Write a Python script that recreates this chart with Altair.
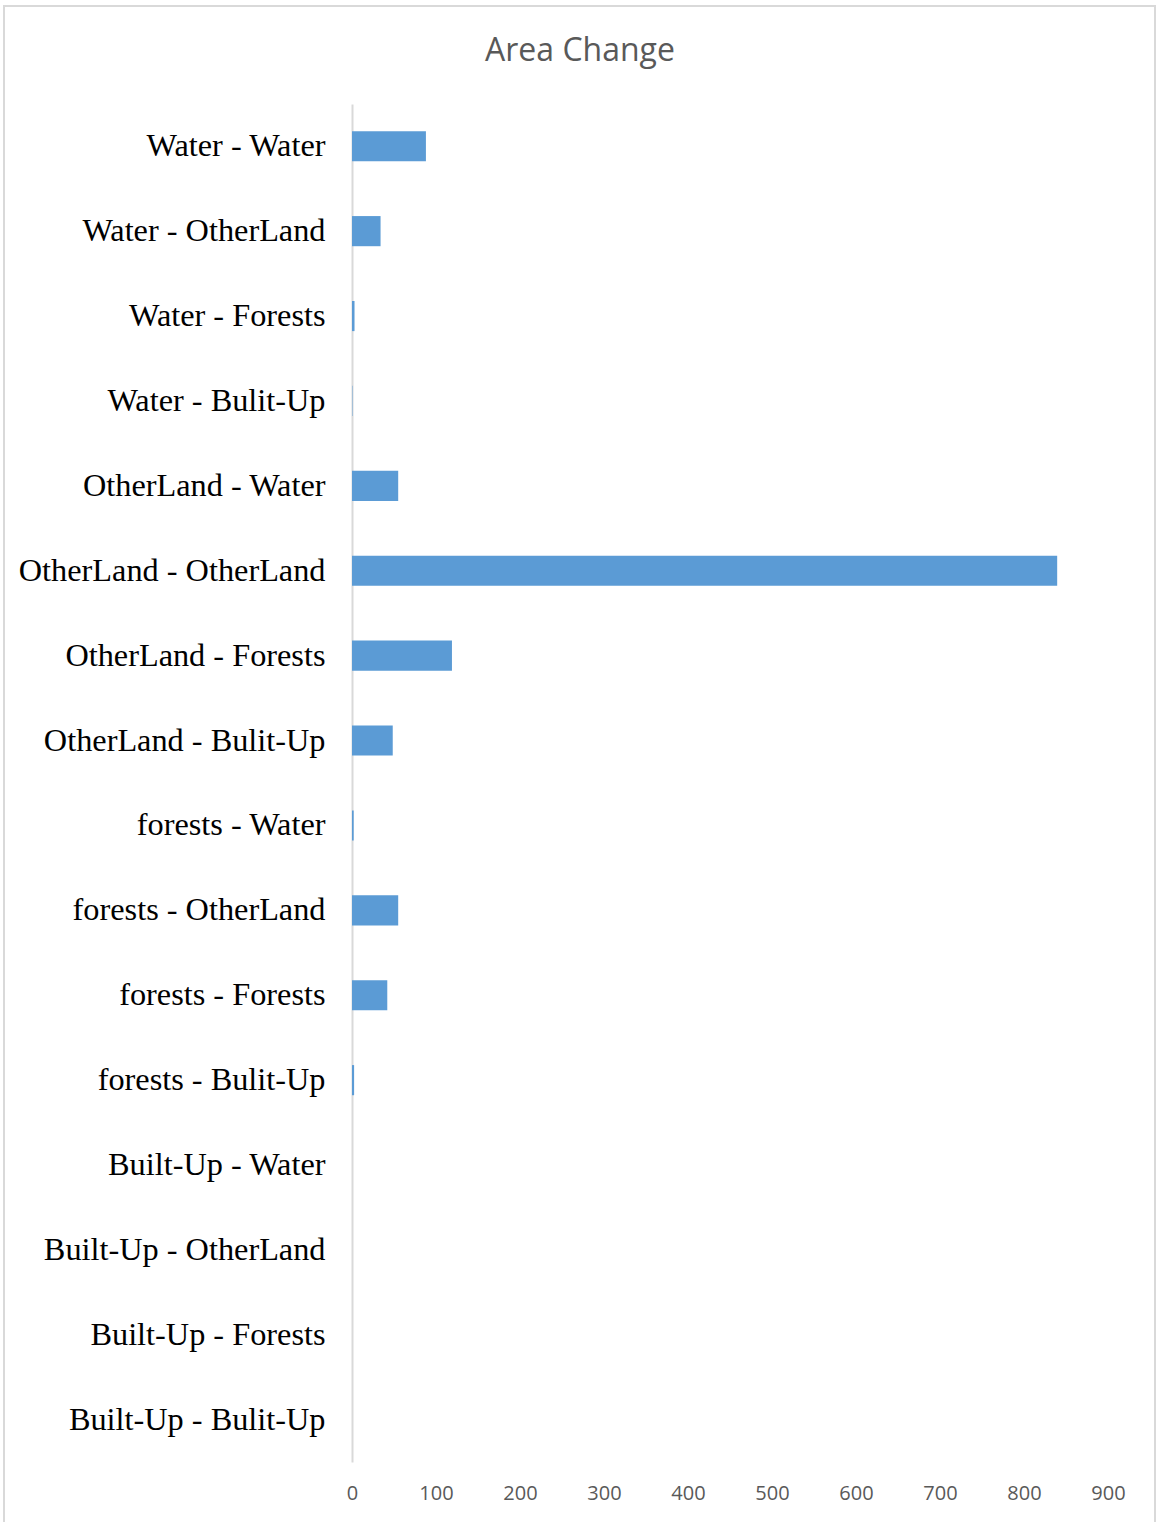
import altair as alt
import pandas as pd

categories = [
    "Water - Water", "Water - OtherLand", "Water - Forests", "Water - Bulit-Up",
    "OtherLand - Water", "OtherLand - OtherLand", "OtherLand - Forests", "OtherLand - Bulit-Up",
    "forests - Water", "forests - OtherLand", "forests - Forests", "forests - Bulit-Up",
    "Built-Up - Water", "Built-Up - OtherLand", "Built-Up - Forests", "Built-Up - Bulit-Up",
]
values = [88, 34, 3, 0.5, 55, 839.5, 119, 48.5, 2, 55, 42, 2.5, 0, 0, 0, 0]
x_ticks = [0, 100, 200, 300, 400, 500, 600, 700, 800, 900]
title_text = "Area Change"

df = pd.DataFrame({"cat": categories, "val": values})

bars = alt.Chart(df).mark_bar(color="#5b9bd5").encode(
    x=alt.X("val:Q", scale=alt.Scale(domain=[0, 900], nice=False),
            axis=alt.Axis(values=x_ticks, title=None, grid=False, domain=False, ticks=False,
                          labelFont="Open Sans", labelFontSize=20, labelColor="#595959",
                          labelPadding=21, labelFlush=False)),
    y=alt.Y("cat:N", sort=categories,
            scale=alt.Scale(paddingInner=0.645, paddingOuter=0.32),
            axis=alt.Axis(title=None, ticks=False, domainColor="#d9d9d9", domainWidth=2,
                          labelFont="Liberation Serif", labelFontSize=32.3, labelColor="#000000",
                          labelPadding=27, labelLimit=400)),
)

border = alt.Chart(pd.DataFrame({"a": [0]})).mark_rect(
    fill=None, stroke="#d9d9d9", strokeWidth=2
).encode(
    x=alt.value(-348), x2=alt.value(803), y=alt.value(-98), y2=alt.value(1430)
)

title = alt.Chart(pd.DataFrame({"t": [title_text]})).mark_text(
    font="Open Sans", fontSize=32, color="#595959", align="center", baseline="middle"
).encode(
    text="t:N", x=alt.value(228), y=alt.value(-53)
)

chart = alt.layer(border, bars, title).properties(
    width=756, height=1358,
    autosize=alt.AutoSizeParams(type="none"),
    padding={"left": 352, "top": 104, "right": 48, "bottom": 60},
    background="white",
).configure_view(stroke=None, strokeWidth=0)

chart.save("out.html", embed_options={"renderer": "svg", "actions": False})
